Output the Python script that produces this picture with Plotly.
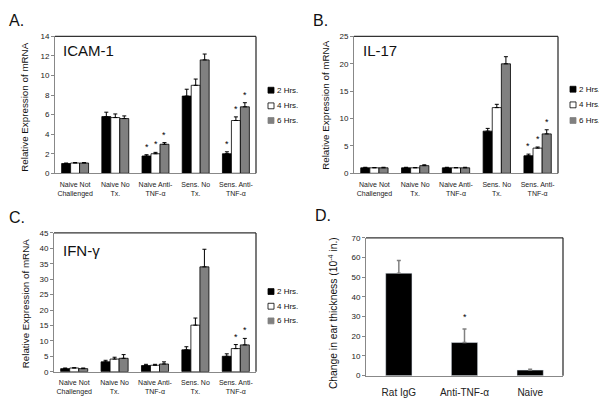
import plotly.graph_objects as go

# The page body has an 8px margin, so the figure is drawn 8px in from the
# window's corner; the figure is sized to fill the rest of the 607x408 window.
OFF = 8
W, H = 607 - OFF, 408 - OFF
FONT = "Liberation Sans, Arial, sans-serif"

cats = ["Naive Not<br>Challenged", "Naive No<br>Tx.", "Naive Anti-<br>TNF-α", "Sens. No<br>Tx.", "Sens. Anti-<br>TNF-α"]
series_names = ["2 Hrs.", "4 Hrs.", "6 Hrs."]

# Panel A: ICAM-1
icam_2h = [1.0, 5.8, 1.77, 7.9, 2.0]
icam_4h = [1.05, 5.7, 2.0, 9.0, 5.4]
icam_6h = [1.05, 5.6, 2.97, 11.6, 6.8]
icam_2h_err = [0.05, 0.45, 0.13, 0.7, 0.2]
icam_4h_err = [0.05, 0.37, 0.14, 0.64, 0.37]
icam_6h_err = [0.05, 0.27, 0.17, 0.6, 0.42]
icam_stars = [(2, 0), (2, 1), (2, 2), (4, 0), (4, 1), (4, 2)]

# Panel B: IL-17
il17_2h = [1.0, 1.0, 1.0, 7.7, 3.2]
il17_4h = [1.0, 1.0, 1.0, 12.0, 4.6]
il17_6h = [1.0, 1.4, 1.0, 20.0, 7.2]
il17_2h_err = [0.1, 0.1, 0.1, 0.5, 0.3]
il17_4h_err = [0.05, 0.05, 0.05, 0.6, 0.2]
il17_6h_err = [0.1, 0.15, 0.1, 1.3, 0.75]
il17_stars = [(4, 0), (4, 1), (4, 2)]

# Panel C: IFN-gamma
ifn_2h = [1.0, 3.2, 2.0, 7.1, 5.0]
ifn_4h = [1.2, 4.1, 2.1, 15.1, 7.5]
ifn_6h = [1.0, 4.35, 2.5, 34.0, 8.7]
ifn_2h_err = [0.2, 0.5, 0.4, 1.0, 0.8]
ifn_4h_err = [0.1, 0.6, 0.3, 2.3, 1.3]
ifn_6h_err = [0.2, 1.2, 0.7, 5.7, 2.1]
ifn_stars = [(4, 1), (4, 2)]

# Panel D: ear thickness
d_cats = ["Rat IgG", "Anti-TNF-α", "Naive"]
d_vals = [52, 16.8, 2.8]
d_err = [6.5, 6.9, 0.5]
d_stars = [1]

colors = ["#000000", "#ffffff", "#808080"]

def fx(px):
    return (px - OFF) / W

def fy(py):
    return 1 - (py - OFF) / H

dom = {
    "A": ([fx(55), fx(256)], [fy(173), fy(33)]),
    "B": ([fx(354), fx(558)], [fy(173), fy(33)]),
    "C": ([fx(54), fx(256)], [fy(376), fy(234)]),
    "D": ([fx(366), fx(563)], [fy(380), fy(239)]),
}

fig = go.Figure()

panels = [
    ("A", "x", "y", [icam_2h, icam_4h, icam_6h], [icam_2h_err, icam_4h_err, icam_6h_err], icam_stars),
    ("B", "x2", "y2", [il17_2h, il17_4h, il17_6h], [il17_2h_err, il17_4h_err, il17_6h_err], il17_stars),
    ("C", "x3", "y3", [ifn_2h, ifn_4h, ifn_6h], [ifn_2h_err, ifn_4h_err, ifn_6h_err], ifn_stars),
]

BARGAP = 0.33
annotations = []
shapes = []

for key, xa, ya, vals, errs, stars in panels:
    for s in range(3):
        fig.add_trace(go.Bar(
            x=cats, y=vals[s], name=series_names[s], xaxis=xa, yaxis=ya, showlegend=False,
            marker=dict(color=colors[s], line=dict(color="#000000", width=0.8)),
            error_y=dict(type="data", array=errs[s], arrayminus=[0] * 5, symmetric=False,
                         color="#000000", thickness=1, width=2),
        ))
    xd = dom[key][0]
    cat_px = (xd[1] - xd[0]) * W / 5
    bar_px = cat_px * (1 - BARGAP) / 3
    for (ci, si) in stars:
        annotations.append(dict(
            x=cats[ci], y=vals[si][ci] + errs[si][ci], xref=xa, yref=ya,
            text="*", showarrow=False, xshift=(si - 1) * bar_px, yshift=8,
            xanchor="center", yanchor="middle",
            font=dict(size=9, family=FONT, color="black"),
        ))

fig.add_trace(go.Bar(
    x=d_cats, y=d_vals, xaxis="x4", yaxis="y4", showlegend=False, width=0.4,
    marker=dict(color="#000000"),
    error_y=dict(type="data", array=d_err, arrayminus=[0] * 3, symmetric=False,
                 color="#808080", thickness=1.5, width=2),
))
for ci in d_stars:
    annotations.append(dict(
        x=d_cats[ci], y=d_vals[ci] + d_err[ci], xref="x4", yref="y4",
        text="*", showarrow=False, yshift=12, xanchor="center", yanchor="middle",
        font=dict(size=9, family=FONT, color="black"),
    ))

axis_common_x = dict(showline=True, linecolor="#888888", linewidth=1, ticks="",
                     tickfont=dict(size=7, family=FONT, color="#222"), showgrid=False,
                     zeroline=False, fixedrange=True, ticklabelstandoff=4)
axis_common_y = dict(showline=True, linecolor="#888888", linewidth=1, ticks="outside",
                     ticklen=3, tickcolor="#888888", tickfont=dict(size=8, family=FONT, color="#222"),
                     showgrid=False, zeroline=False, fixedrange=True)

layout = dict(
    width=W, height=H, margin=dict(l=0, r=0, t=0, b=0),
    paper_bgcolor="white", plot_bgcolor="white",
    barmode="group", bargap=BARGAP, bargroupgap=0, showlegend=False,
    font=dict(family=FONT, color="#111"),
)
ranges = {"A": (14, 2), "B": (25, 5), "C": (45, 5), "D": (70, 10)}
axnames = {"A": ("xaxis", "yaxis", "x", "y"), "B": ("xaxis2", "yaxis2", "x2", "y2"),
           "C": ("xaxis3", "yaxis3", "x3", "y3"), "D": ("xaxis4", "yaxis4", "x4", "y4")}
for key, (xn, yn, xr, yr) in axnames.items():
    xd, yd = dom[key]
    xax = dict(axis_common_x, domain=xd, anchor=yr)
    if key == "D":
        xax["tickfont"] = dict(size=10, family=FONT, color="#222")
        xax["ticklabelstandoff"] = 7
    layout[xn] = xax
    layout[yn] = dict(axis_common_y, domain=yd, anchor=xr, range=[0, ranges[key][0]], dtick=ranges[key][1])
    shapes.append(dict(type="line", xref=f"{xr} domain", yref=f"{yr} domain", x0=0, x1=1, y0=1, y1=1,
                       line=dict(color="#333333", width=1.2)))
    shapes.append(dict(type="line", xref=f"{xr} domain", yref=f"{yr} domain", x0=1, x1=1, y0=0, y1=1,
                       line=dict(color="#222222", width=1.2)))

def pann(text, x, y, size, xanchor="center", **kw):
    d = dict(text=text, x=fx(x), y=fy(y), xref="paper", yref="paper", showarrow=False,
             xanchor=xanchor, yanchor="middle", borderpad=0,
             font=dict(size=size, family=FONT, color="#111"))
    d.update(kw)
    annotations.append(d)

# legends (key boxes + labels) for panels A, B, C
legend_pos = [(268, [88, 104, 119]), (570, [87, 103, 119]), (268, [294, 309, 324])]
for lx, lys in legend_pos:
    for s, ly in enumerate(lys):
        shapes.append(dict(type="rect", xref="paper", yref="paper",
                           x0=fx(lx), x1=fx(lx + 6), y0=fy(ly + 3), y1=fy(ly - 3),
                           fillcolor=colors[s], line=dict(color="#000000" if s < 2 else colors[s], width=0.8)))
        pann(series_names[s], lx + 8, ly, 8, xanchor="left")

# panel letters
pann("A.", 8, 17, 16, xanchor="left")
pann("B.", 312, 17, 16, xanchor="left")
pann("C.", 8, 218, 16, xanchor="left")
pann("D.", 314, 216, 16, xanchor="left")
# in-plot labels
pann("ICAM-1", 62, 47, 15, xanchor="left")
pann("IL-17", 362, 47, 15, xanchor="left")
pann("IFN-γ", 62, 252, 15, xanchor="left")
# y titles
ytitle = "Relative Expression of mRNA"
pann(ytitle, 25, 105, 9.8, textangle=-90)
pann(ytitle, 326, 103, 9.8, textangle=-90)
pann(ytitle, 25, 306, 9.8, textangle=-90)
pann("Change in ear thickness (10<sup>-4</sup> in.)", 332, 316, 10.3, textangle=-90)

layout["annotations"] = annotations
layout["shapes"] = shapes
fig.update_layout(**layout)

fig.write_html("out.html")
